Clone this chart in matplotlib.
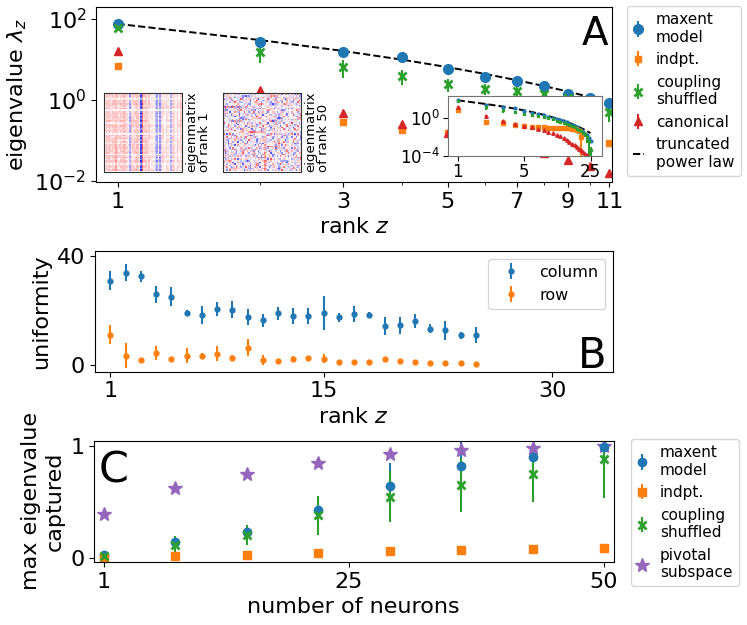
import numpy as np
import matplotlib.pyplot as plt
from matplotlib.ticker import NullFormatter, NullLocator

plt.rcParams['font.family'] = ['DejaVu Sans']
plt.rcParams['font.size'] = 16
plt.rcParams['mathtext.fontset'] = 'dejavusans'

# ---- panel A: eigenvalue spectrum (ranks 1..25, main axes shows 1..11)
ranks = np.arange(1, 26)
maxent_eig = [75, 27, 15.3, 11.5, 5.8, 3.7, 2.95, 2.2, 1.4, 1.1, 0.84, 0.62, 0.47,
              0.35, 0.26, 0.19, 0.14, 0.10, 0.072, 0.050, 0.034, 0.022, 0.014, 0.008, 0.004]
maxent_err = [2, 1, 0.5, 0.4, 0.2, 0.15, 0.1, 0.08, 0.06, 0.05, 0.04, 0.03, 0.02,
              0.015, 0.012, 0.009, 0.007, 0.005, 0.004, 0.003, 0.002, 0.0015, 0.001, 0.0006, 0.0003]
indpt_eig = [6.9, 0.34, 0.29, 0.18, 0.15, 0.12, 0.11, 0.10, 0.095, 0.09, 0.087, 0.085, 0.083,
             0.08, 0.078, 0.075, 0.068, 0.054, 0.038, 0.010, np.nan, np.nan, np.nan, np.nan, np.nan]
indpt_err = [0.3, 0.03, 0.06, 0.02, 0.015, 0.01, 0.01, 0.01, 0.01, 0.01, 0.008, 0.008, 0.008,
             0.008, 0.008, 0.008, 0.008, 0.008, 0.02, 0.012, np.nan, np.nan, np.nan, np.nan, np.nan]
shuffled_eig = [60, 15, 6.5, 3.9, 2.5, 1.9, 1.66, 1.4, 1.1, 0.8, 0.5, 0.4, 0.3, 0.22, 0.17,
                0.13, 0.1, 0.075, 0.055, 0.04, 0.028, 0.018, 0.01, 0.004, 0.0004]
shuffled_err = [6, 7, 3, 1.5, 0.9, 0.6, 0.5, 0.4, 0.35, 0.3, 0.21, 0.16, 0.12, 0.09, 0.07,
                0.05, 0.04, 0.03, 0.022, 0.016, 0.012, 0.009, 0.008, 0.004, 0.0004]
canon_eig = [16, 1.8, 0.48, 0.26, 0.15, 0.10, 0.075, 0.05, 0.033, 0.023, 0.016, 0.011, 0.007,
             0.005, 0.0032, 0.0019, 0.0013, 0.0008, 0.0005, 0.0004, 0.00025, 0.00016, 0.00011,
             0.00006, 0.00003]
canon_err = [1, 0.2, 0.08, 0.03, 0.015, 0.01, 0.007, 0.005, 0.003, 0.002, 0.0015, 0.001, 0.0007,
             0.0005, 0.0003, 0.0002, 0.0001, 0.00008, 0.00005, 0.00004, 0.00002, 0.00002,
             0.00001, 0.00001, 0.00001]
power_law = [75.9, 30.3, 16.3, 9.95, 6.49, 4.42, 3.10, 2.22, 1.62, 1.19, 0.89, 0.67, 0.51,
             0.387, 0.297, 0.229, 0.177, 0.137, 0.107, 0.0836, 0.0655, 0.0514, 0.0404, 0.0318, 0.0251]

# profiles for the eigenmatrix thumbnails
col_profile = [0.15, 0.3, 0.25, 0.35, 0.2, 0.3, 0.25, 0.4, 0.25, 0.2, 0.3, 0.25, 0.35, 0.3, 0.2,
               0.1, -0.45, 0.3, 0.2, 0.25, 0.35, 0.3, 0.15, -0.9, 0.8, 0.25, 0.3, 0.2, 0.25, 0.1,
               0.15, 0.1, -0.3, -0.5, 0.15, -0.55, 0.25, 0.2, 0.05, 0.25, 0.15, 0.1, -0.4, 0.25,
               0.2, 0.05, 0.3, 0.1, 0.25, 0.2]
row_profile = [0.9, 0.7, 0.8, 0.6, 0.3, 0.85, 0.7, 0.9, 0.6, 0.75, 0.8, 0.1, 0.7, 0.9, 0.65,
               0.8, 0.7, 0.6, 0.85, 0.45, 0.75, 0.9, 0.7, 0.6, 0.8, 0.7, 0.15, 0.85, 0.7, 0.9,
               0.6, 0.75, 0.4, 0.8, 0.7, 0.9, 0.65, 0.75, 0.8, 0.1, 0.7, 0.85, 0.6, 0.9, 0.7,
               0.35, 0.8, 0.75, 0.6, 0.9]

# ---- panel B: uniformity
rank_b = np.arange(1, 26)
column_u = [30.8, 33.8, 32.5, 26.0, 25.0, 19.2, 18.4, 20.5, 20.3, 17.6, 16.4, 19.0, 18.0,
            17.9, 19.1, 17.5, 18.6, 18.5, 14.3, 14.6, 16.2, 13.4, 12.8, 10.9, 11.1]
column_err = [3.5, 3.2, 2.0, 3.1, 3.4, 0.9, 3.3, 2.5, 3.0, 3.0, 2.3, 2.4, 2.9, 2.9, 6.2, 1.6,
              2.9, 0.8, 3.4, 3.0, 2.4, 1.7, 3.4, 1.45, 2.9]
row_u = [11.2, 3.6, 2.05, 4.5, 2.2, 3.6, 3.3, 4.3, 2.8, 6.5, 1.9, 1.6, 2.3, 2.7, 2.5, 1.2,
         1.2, 1.2, 2.3, 1.6, 1.1, 0.7, 0.7, 0.7, 0.6]
row_err = [3.5, 4.4, 0.8, 2.6, 0.6, 2.8, 1.1, 2.7, 1.0, 3.0, 1.9, 0.6, 1.1, 0.7, 1.8, 0.4,
           0.5, 0.5, 0.9, 0.9, 0.6, 0.3, 0.3, 0.3, 0.3]

# ---- panel C: max eigenvalue captured
neurons = [1, 8, 15, 22, 29, 36, 43, 50]
c_maxent = [0.027, 0.14, 0.23, 0.43, 0.643, 0.815, 0.90, 0.99]
c_maxent_err = [0.005, 0.02, 0.04, 0.12, 0.2, 0.25, 0.1, 0.03]
c_indpt = [0.0, 0.018, 0.027, 0.042, 0.057, 0.065, 0.077, 0.09]
c_indpt_err = [0.005, 0.005, 0.005, 0.006, 0.006, 0.007, 0.007, 0.008]
c_shuffled = [0.018, 0.11, 0.20, 0.38, 0.545, 0.65, 0.75, 0.88]
c_shuffled_err = [0.01, 0.08, 0.09, 0.175, 0.23, 0.24, 0.25, 0.35]
c_pivotal = [0.39, 0.62, 0.75, 0.85, 0.923, 0.96, 0.98, 1.0]

W, H = 747, 625
fig = plt.figure(figsize=(W / 100, H / 100), dpi=100)


def box(x0, y0, x1, y1):
    # pixel box (top-left origin) -> figure rect
    return [x0 / W, 1 - y1 / H, (x1 - x0) / W, (y1 - y0) / H]


def ordered_legend(a, order, **kw):
    h, l = a.get_legend_handles_labels()
    d = dict(zip(l, h))
    return a.legend([d[k] for k in order], order, **kw)


# ================= A
ax = fig.add_axes(box(96, 7, 612, 182))
ax.set_xscale('log')
ax.set_yscale('log')
ax.errorbar(ranks, maxent_eig, yerr=maxent_err, fmt='o', color='C0', ms=7, label='maxent\nmodel')
ax.errorbar(ranks, indpt_eig, yerr=indpt_err, fmt='s', color='C1', ms=5, label='indpt.')
ax.errorbar(ranks, shuffled_eig, yerr=shuffled_err, fmt='x', color='C2', ms=6, mew=2,
            label='coupling\nshuffled')
ax.errorbar(ranks, canon_eig, yerr=canon_err, fmt='^', color='C3', ms=6, label='canonical')
ax.plot(ranks, power_law, 'k--', lw=1.4, label='truncated\npower law')
ax.set_xlim(0.9, 11.15)
ax.set_ylim(0.0095, 198)
ax.set_xticks([1, 3, 5, 7, 9, 11])
ax.set_xticklabels(['1', '3', '5', '7', '9', '11'])
ax.set_xticks([2, 4, 6, 8, 10], minor=True)
ax.xaxis.set_minor_formatter(NullFormatter())
ax.set_yticks([1e-2, 1, 1e2])
ax.yaxis.set_minor_locator(NullLocator())
ax.set_xlabel('rank $z$')
ax.set_ylabel(r'eigenvalue $\lambda_z$')
ax.text(0.993, 0.783, 'A', transform=ax.transAxes, ha='right', va='baseline', fontsize=28)
ordered_legend(ax, ['maxent\nmodel', 'indpt.', 'coupling\nshuffled', 'canonical',
                    'truncated\npower law'],
               loc='upper left', bbox_to_anchor=(627 / W, 1 - 6 / H), bbox_transform=fig.transFigure,
               fontsize=11, handlelength=0.7, borderaxespad=0)

# eigenmatrix thumbnails
idx = np.arange(50)
tex1 = np.sin(np.outer(idx + 1, idx + 3) * 0.618)
tex2 = np.sin(np.outer(idx + 2, idx + 5) * 0.731)
tex3 = np.sin(np.outer(idx + 7, idx + 1) * 1.377 + idx[:, None] * 0.5)
eig1 = np.outer(row_profile, col_profile) + 0.07 * tex1
eig50 = 0.17 * tex2 + 0.12 * tex3 + 0.4 * tex3 ** 11

for img, x0, label in [(eig1, 103.5, 'eigenmatrix\nof rank 1'), (eig50, 222.5, 'eigenmatrix\nof rank 50')]:
    iax = fig.add_axes(box(x0, 93, x0 + 78.5, 171.5))
    iax.imshow(img, cmap='bwr', vmin=-1, vmax=1, aspect='auto', interpolation='nearest')
    iax.set_xticks([])
    iax.set_yticks([])
    for s in iax.spines.values():
        s.set_color('0.2')
    fig.text((x0 + 81.5) / W, 1 - 172 / H, label, rotation=90, ha='left', va='bottom',
             multialignment='left', fontsize=9.5, linespacing=1.0)

# inset: full spectrum
ins = fig.add_axes(box(447.7, 95.7, 602, 155.7))
ins.set_xscale('log')
ins.set_yscale('log')
ins.errorbar(ranks, maxent_eig, yerr=maxent_err, fmt='o', color='C0', ms=2)
ins.errorbar(ranks, indpt_eig, yerr=indpt_err, fmt='s', color='C1', ms=2.5)
ins.errorbar(ranks, shuffled_eig, yerr=shuffled_err, fmt='x', color='C2', ms=2)
ins.errorbar(ranks, canon_eig, yerr=canon_err, fmt='^', color='C3', ms=2.5)
ins.plot(ranks, power_law, 'k--', lw=1.4)
ins.set_xlim(0.785, 33)
ins.set_ylim(1e-4, 234)
ins.set_xticks([1, 5, 25])
ins.set_xticklabels(['1', '5', '25'])
ins.xaxis.set_minor_locator(NullLocator())
ins.set_yticks([1e-4, 1])
ins.yaxis.set_minor_locator(NullLocator())
ins.tick_params(labelsize=12, pad=2)
for s in ins.spines.values():
    s.set_color('0.45')

# ================= B
axb = fig.add_axes(box(94.6, 250.7, 613, 371.7))
axb.errorbar(rank_b, column_u, yerr=column_err, fmt='.', color='C0', ms=7, label='column')
axb.errorbar(rank_b, row_u, yerr=row_err, fmt='.', color='C1', ms=7, label='row')
axb.set_xlim(-0.04, 34)
axb.set_ylim(-2.3, 41.8)
axb.set_xticks([1, 15, 30])
axb.set_yticks([0, 40])
axb.set_xlabel('rank $z$')
axb.set_ylabel('uniformity')
axb.text(0.988, 0.031, 'B', transform=axb.transAxes, ha='right', va='baseline', fontsize=30)
axb.legend(loc='upper right', fontsize=11.5)

# ================= C
axc = fig.add_axes(box(94, 441, 613.6, 562))
axc.errorbar(neurons, c_maxent, yerr=c_maxent_err, fmt='o', color='C0', ms=6, label='maxent\nmodel')
axc.errorbar(neurons, c_indpt, yerr=c_indpt_err, fmt='s', color='C1', ms=5.5, label='indpt.')
axc.errorbar(neurons, c_shuffled, yerr=c_shuffled_err, fmt='x', color='C2', ms=6, mew=2,
             label='coupling\nshuffled')
axc.plot(neurons, c_pivotal, '*', color='C4', ms=10, ls='none', label='pivotal\nsubspace')
axc.set_xlim(0.02, 50.94)
axc.set_ylim(-0.038, 1.042)
axc.set_xticks([1, 25, 50])
axc.set_yticks([0, 1])
axc.set_xlabel('number of neurons')
axc.set_ylabel('max eigenvalue\ncaptured')
axc.text(0.008, 0.653, 'C', transform=axc.transAxes, ha='left', va='baseline', fontsize=31)
ordered_legend(axc, ['maxent\nmodel', 'indpt.', 'coupling\nshuffled', 'pivotal\nsubspace'],
               loc='upper left', bbox_to_anchor=(631 / W, 1 - 439 / H), bbox_transform=fig.transFigure,
               fontsize=11, handlelength=0.7, borderaxespad=0)

fig.savefig('out.png', dpi=100)
